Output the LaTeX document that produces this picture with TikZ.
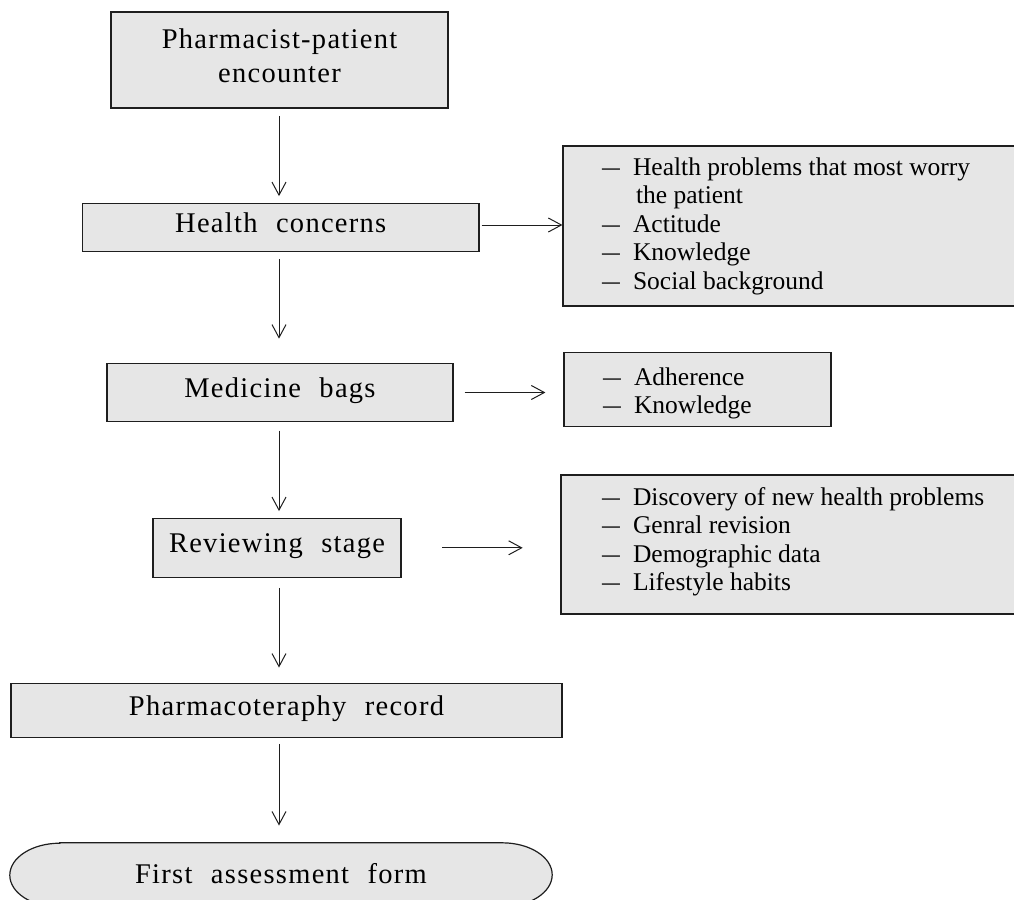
\documentclass[tikz,border=0pt]{standalone}
\usepackage{fontspec}
\setmainfont{Liberation Serif}
\newfontfamily\boxfont{Liberation Serif}[LetterSpace=4.5,WordSpace=2.2]
\usetikzlibrary{arrows.meta,backgrounds}
\definecolor{boxfill}{RGB}{230,230,230}
\definecolor{linecol}{RGB}{30,30,30}
\newcommand\listdash{\scalebox{0.7}[1]{—}}
\begin{document}
\begin{tikzpicture}[x=1pt,y=-1pt,
  box/.style={draw=linecol,fill=boxfill,line width=1.2pt,inner sep=0pt,
     font=\boxfont\fontsize{28.5}{34}\selectfont},
  mainbox/.style={box,text height=18pt,text depth=8pt},
  listbox/.style={draw=linecol,fill=boxfill,line width=1.2pt,inner sep=0pt},
  listtext/.style={inner sep=0pt,anchor=base west,font=\fontsize{25.5}{28.6}\selectfont},
  arr/.style={draw=linecol,line width=1pt,-{Straight Barb[length=13pt,width=14pt]}},
]
\useasboundingbox (0,0) rectangle (1014,899);

% main column
\node[box,align=center,text depth=8pt,minimum width=337pt,minimum height=96pt] (TB) at (279.5,60) {Pharmacist-patient\\encounter};
\node[mainbox,minimum width=396.5pt,minimum height=47.5pt] (HC) at (280.75,227.5) {Health concerns};
\node[mainbox,minimum width=346pt,minimum height=58.5pt] (MB) at (280,392.5) {Medicine bags};
\node[mainbox,minimum width=248pt,minimum height=59pt] (RS) at (277,547.8) {Reviewing stage};
\node[mainbox,minimum width=551pt,minimum height=53.3pt] (PR) at (286.5,710.5) {Pharmacoteraphy record};
\node[inner sep=0pt,font=\boxfont\fontsize{28.5}{34}\selectfont,text height=20pt,text depth=4pt,
      minimum width=542pt,minimum height=64pt] (FA) at (281,875) {First assessment form};
\begin{scope}[on background layer]
\path[draw=linecol,fill=boxfill,line width=1.2pt]
  ([xshift=50pt]FA.north west) -- ([xshift=-50pt]FA.north east)
  arc[start angle=90,end angle=-90,x radius=50pt,y radius=32pt]
  -- ([xshift=50pt]FA.south west)
  arc[start angle=270,end angle=90,x radius=50pt,y radius=32pt] -- cycle;
\end{scope}

% side boxes
\node[listbox,minimum width=457pt,minimum height=160pt] (R1) at (791.5,226) {};
\node[listbox,minimum width=267pt,minimum height=74.4pt] (R2) at (697.5,389.5) {};
\node[listbox,minimum width=459pt,minimum height=139pt] (R3) at (790.5,544.5) {};

\node[listtext] (R1t) at (602,175) {\begin{tabular}[t]{@{}l@{\hspace{13pt}}l@{}}
\listdash & Health problems that most worry\\
 & \hspace{3pt}the patient\\
\listdash & Actitude\\
\listdash & Knowledge\\
\listdash & Social background
\end{tabular}};
\node[listtext] (R2t) at (603,385) {\begin{tabular}[t]{@{}l@{\hspace{13pt}}l@{}}
\listdash & Adherence\\
\listdash & Knowledge
\end{tabular}};
\node[listtext] (R3t) at (602,505) {\begin{tabular}[t]{@{}l@{\hspace{13pt}}l@{}}
\listdash & Discovery of new health problems\\
\listdash & Genral revision\\
\listdash & Demographic data\\
\listdash & Lifestyle habits
\end{tabular}};

% connectors
\coordinate (ax) at (279,0);
\draw[arr,shorten <=7.3pt,shorten >=7pt] (TB.south -| ax) -- (HC.north -| ax);
\draw[arr,shorten <=7pt,shorten >=24pt] (HC.south -| ax) -- (MB.north -| ax);
\draw[arr,shorten <=8.3pt,shorten >=6.6pt] (MB.south -| ax) -- (RS.north -| ax);
\draw[arr,shorten <=10pt,shorten >=15.7pt] (RS.south -| ax) -- (PR.north -| ax);
\draw[arr,shorten <=6pt,shorten >=17.3pt] (PR.south -| ax) -- (FA.north -| ax);

\coordinate (hcR) at ([yshift=2.5pt]HC.east);
\draw[arr,shorten <=2pt] (hcR) -- (hcR -| R1.west);
\draw[arr,shorten <=11pt,shorten >=18pt] (MB.east) -- (MB.east -| R2.west);
\draw[arr,shorten <=40.7pt,shorten >=37.7pt] (RS.east) -- (RS.east -| R3.west);
\end{tikzpicture}
\end{document}
